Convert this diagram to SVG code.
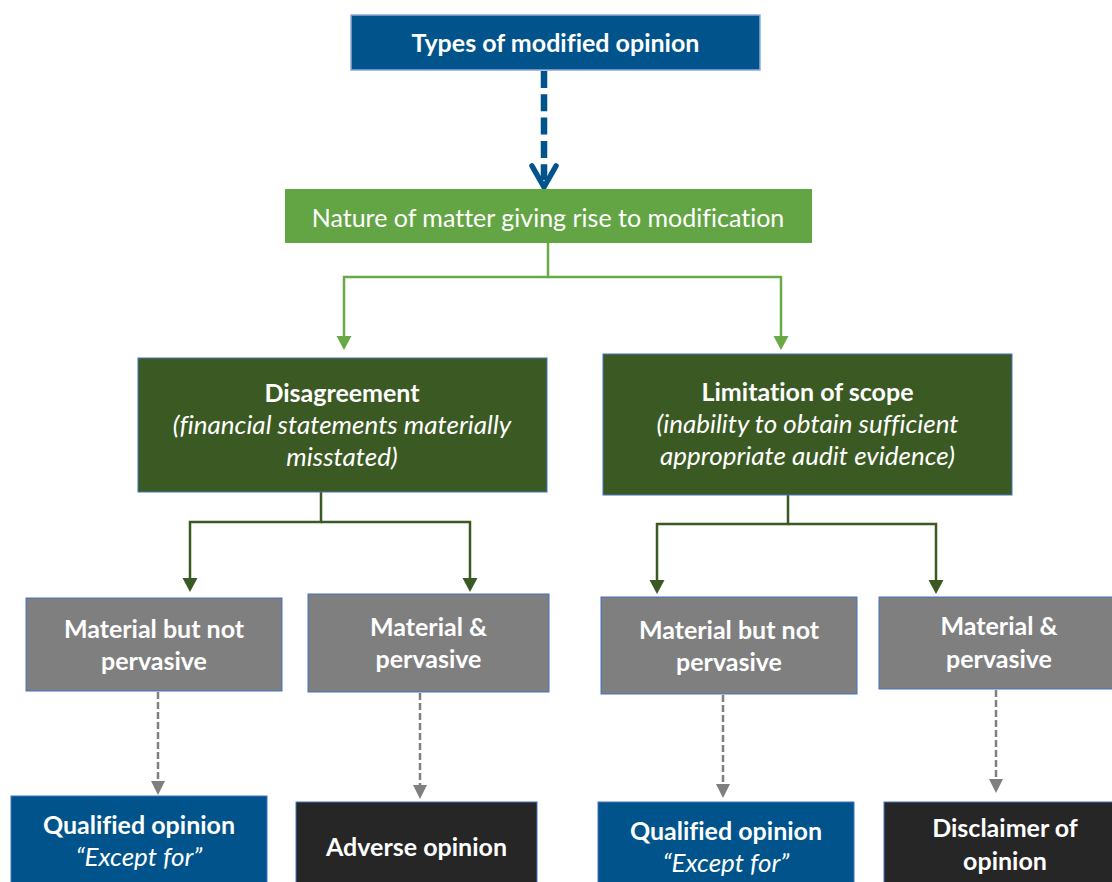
<svg xmlns="http://www.w3.org/2000/svg" width="1112" height="882" viewBox="0 0 1112 882">
  <style>
    text { font-family: Lato, "Open Sans", "Liberation Sans", sans-serif; fill: #ffffff; text-anchor: middle; font-variant-ligatures: none; }
    .b { font-weight: 700; font-size: 25px; }
    .r { font-size: 25px; }
    .i { font-style: italic; font-size: 26px; }
    .box { stroke: #4472c4; stroke-width: 1; }
    .blue { fill: #00538b; }
    .dkgreen { fill: #3b5a23; }
    .grey { fill: #7f7f7f; }
    .black { fill: #262626; }
    .c-green { fill: none; stroke: #6aaa46; stroke-width: 2.5; }
    .c-dark { fill: none; stroke: #3b5a23; stroke-width: 2.5; }
    .c-grey { fill: none; stroke: #7f7f7f; stroke-width: 2.5; stroke-dasharray: 7 3; }
  </style>
  <defs>
    <marker id="tri-green" markerUnits="userSpaceOnUse" markerWidth="15" markerHeight="16" refX="10" refY="7.5" orient="auto">
      <path d="M0,0 L14,7.5 L0,15 z" fill="#6aaa46"/>
    </marker>
    <marker id="tri-dark" markerUnits="userSpaceOnUse" markerWidth="15" markerHeight="16" refX="10" refY="7.5" orient="auto">
      <path d="M0,0 L14,7.5 L0,15 z" fill="#3b5a23"/>
    </marker>
    <marker id="tri-grey" markerUnits="userSpaceOnUse" markerWidth="15" markerHeight="16" refX="10" refY="7" orient="auto">
      <path d="M0,0 L14,7 L0,14 z" fill="#7f7f7f"/>
    </marker>
  </defs>

  <!-- connectors -->
  <g id="connectors">
    <!-- top to nature: dashed blue with open chevron -->
    <line x1="544" y1="71" x2="544" y2="180" stroke="#00538b" stroke-width="6.5" stroke-dasharray="17 6.3"/>
    <polyline points="532,166 544,187 556,166" fill="none" stroke="#00538b" stroke-width="5.5" stroke-linecap="round" stroke-linejoin="miter"/>
    <!-- nature to the two matter types -->
    <polyline class="c-green" points="548,243 548,277 344,277 344,346" marker-end="url(#tri-green)"/>
    <polyline class="c-green" points="548,277 781,277 781,346" marker-end="url(#tri-green)"/>
    <!-- disagreement branches -->
    <polyline class="c-dark" points="321,492 321,522 190,522 190,588" marker-end="url(#tri-dark)"/>
    <polyline class="c-dark" points="321,522 470,522 470,588" marker-end="url(#tri-dark)"/>
    <!-- limitation branches -->
    <polyline class="c-dark" points="788,495 788,524 657,524 657,590" marker-end="url(#tri-dark)"/>
    <polyline class="c-dark" points="788,524 936,524 936,590" marker-end="url(#tri-dark)"/>
    <!-- outcomes -->
    <line class="c-grey" x1="158" y1="692" x2="158" y2="791" marker-end="url(#tri-grey)"/>
    <line class="c-grey" x1="420" y1="693" x2="420" y2="795" marker-end="url(#tri-grey)"/>
    <line class="c-grey" x1="723" y1="695" x2="723" y2="794" marker-end="url(#tri-grey)"/>
    <line class="c-grey" x1="996" y1="690" x2="996" y2="789" marker-end="url(#tri-grey)"/>
  </g>

  <g id="types">
    <rect x="351" y="15" width="409" height="55" class="blue" stroke="#8faadc" stroke-width="1.5"/>
    <text class="b" x="555.5" y="52">Types of modified opinion</text>
  </g>

  <g id="nature">
    <rect x="285" y="189" width="527" height="54" fill="#63a544"/>
    <text class="r" x="548" y="227">Nature of matter giving rise to modification</text>
  </g>

  <g id="disagreement">
    <rect x="138" y="358" width="409" height="134" class="box dkgreen"/>
    <text class="b" x="342" y="402">Disagreement</text>
    <text class="i" x="342" y="434">(financial statements materially</text>
    <text class="i" x="342" y="466">misstated)</text>
  </g>

  <g id="limitation">
    <rect x="603" y="354" width="409" height="141" class="box dkgreen"/>
    <text class="b" x="807.5" y="401">Limitation of scope</text>
    <text class="i" x="807.5" y="433">(inability to obtain sufficient</text>
    <text class="i" x="807.5" y="465">appropriate audit evidence)</text>
  </g>

  <g id="dis-not-pervasive">
    <rect x="26" y="598" width="256" height="93" class="box grey"/>
    <text class="b" x="154" y="638">Material but not</text>
    <text class="b" x="154" y="670">pervasive</text>
  </g>

  <g id="dis-pervasive">
    <rect x="308" y="594" width="241" height="98" class="box grey"/>
    <text class="b" x="428.5" y="636">Material &amp;</text>
    <text class="b" x="428.5" y="668">pervasive</text>
  </g>

  <g id="lim-not-pervasive">
    <rect x="601" y="597" width="256" height="97" class="box grey"/>
    <text class="b" x="729" y="639">Material but not</text>
    <text class="b" x="729" y="671">pervasive</text>
  </g>

  <g id="lim-pervasive">
    <rect x="879" y="597" width="241" height="92" class="box grey"/>
    <text class="b" x="999" y="635">Material &amp;</text>
    <text class="b" x="999" y="668">pervasive</text>
  </g>

  <g id="qualified-1">
    <rect x="11" y="796" width="256" height="100" class="box blue"/>
    <text class="b" x="139" y="834">Qualified opinion</text>
    <text class="i" x="139" y="866">“Except for”</text>
  </g>

  <g id="adverse">
    <rect x="296" y="802" width="241" height="100" class="box black"/>
    <text class="b" x="416.5" y="856">Adverse opinion</text>
  </g>

  <g id="qualified-2">
    <rect x="598" y="802" width="256" height="100" class="box blue"/>
    <text class="b" x="726" y="840">Qualified opinion</text>
    <text class="i" x="726" y="872">“Except for”</text>
  </g>

  <g id="disclaimer">
    <rect x="884" y="802" width="242" height="100" class="box black"/>
    <text class="b" x="1005" y="837">Disclaimer of</text>
    <text class="b" x="1005" y="870">opinion</text>
  </g>
</svg>
